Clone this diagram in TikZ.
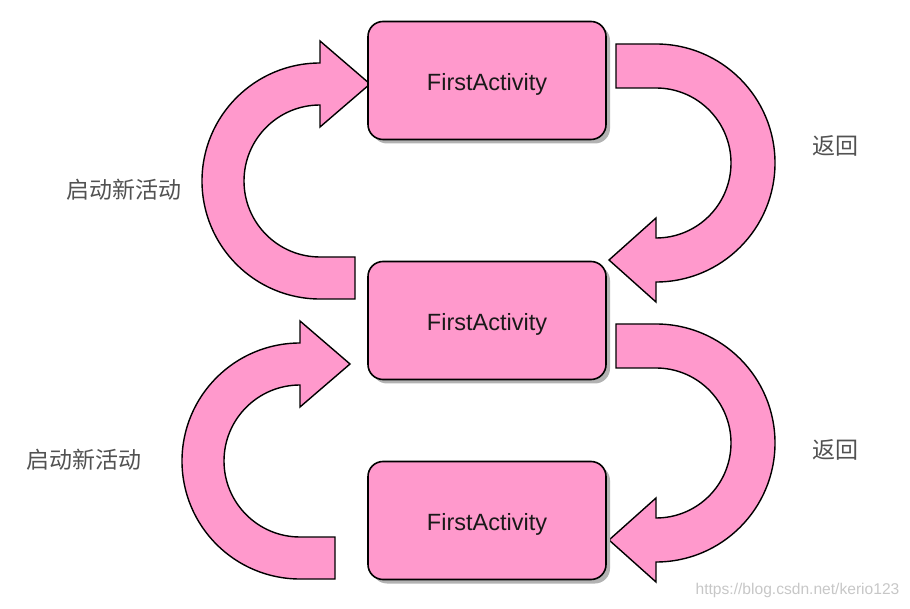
\documentclass[tikz,border=0pt]{standalone}
\usepackage{fontspec}
\setmainfont{Liberation Sans}
\newfontfamily\cjk{Noto Sans CJK SC}
\usetikzlibrary{shadows}
\definecolor{actpink}{HTML}{FF99CC}

\begin{document}
\begin{tikzpicture}[
        x=1pt, y=1pt,
        act/.style={rectangle, rounded corners=15pt, draw=black, fill=actpink,
                    line width=1.6pt, minimum width=238pt, minimum height=118pt,
                    font=\fontsize{23.5}{28}\selectfont, text=black!90,
                    text height=20pt, text depth=0pt,
                    drop shadow={shadow xshift=4pt, shadow yshift=-4pt,
                                 fill=black!30, opacity=1}},
        turn/.style={draw=black, fill=actpink, line width=1.4pt},
        lab/.style={font=\cjk\fontsize{23}{28}\selectfont, text=black!68},
      ]
        \useasboundingbox (0,0) rectangle (910,608);

        \foreach \dx/\dy in {0/0,-20/-280} {
          \path[turn, shift={(\dx,\dy)}] (355,309) -- (320,309)
            arc[start angle=-90, end angle=-270, radius=118]
            -- (320,567) -- (370,524) -- (320,481) -- (320,503)
            arc[start angle=90, end angle=270, radius=76]
            -- (355,351) -- cycle;
        }
        \foreach \dy in {0,-280} {
          \path[turn, shift={(0,\dy)}] (616,564) -- (656,564)
            arc[start angle=90, end angle=-90, radius=119]
            -- (656,306) -- (609,348) -- (656,390) -- (656,370)
            arc[start angle=-90, end angle=90, radius=75]
            -- (616,520) -- cycle;
        }

        \node[act] (act1) at (487,527.5) {FirstActivity};
        \node[act] (act2) at (487,287.5) {FirstActivity};
        \node[act] (act3) at (487,87.5) {FirstActivity};

        \node[lab] (start1) at (123.5,418) {启动新活动};
        \node[lab] (start2) at (83.5,148) {启动新活动};
        \node[lab] (back1) at (835,462) {返回};
        \node[lab] (back2) at (835,158) {返回};

        \node[font=\fontsize{15.6}{18}\selectfont, text=black!22]
          (url) at (797.5,18) {https://blog.csdn.net/kerio123};
      \end{tikzpicture}
\end{document}
